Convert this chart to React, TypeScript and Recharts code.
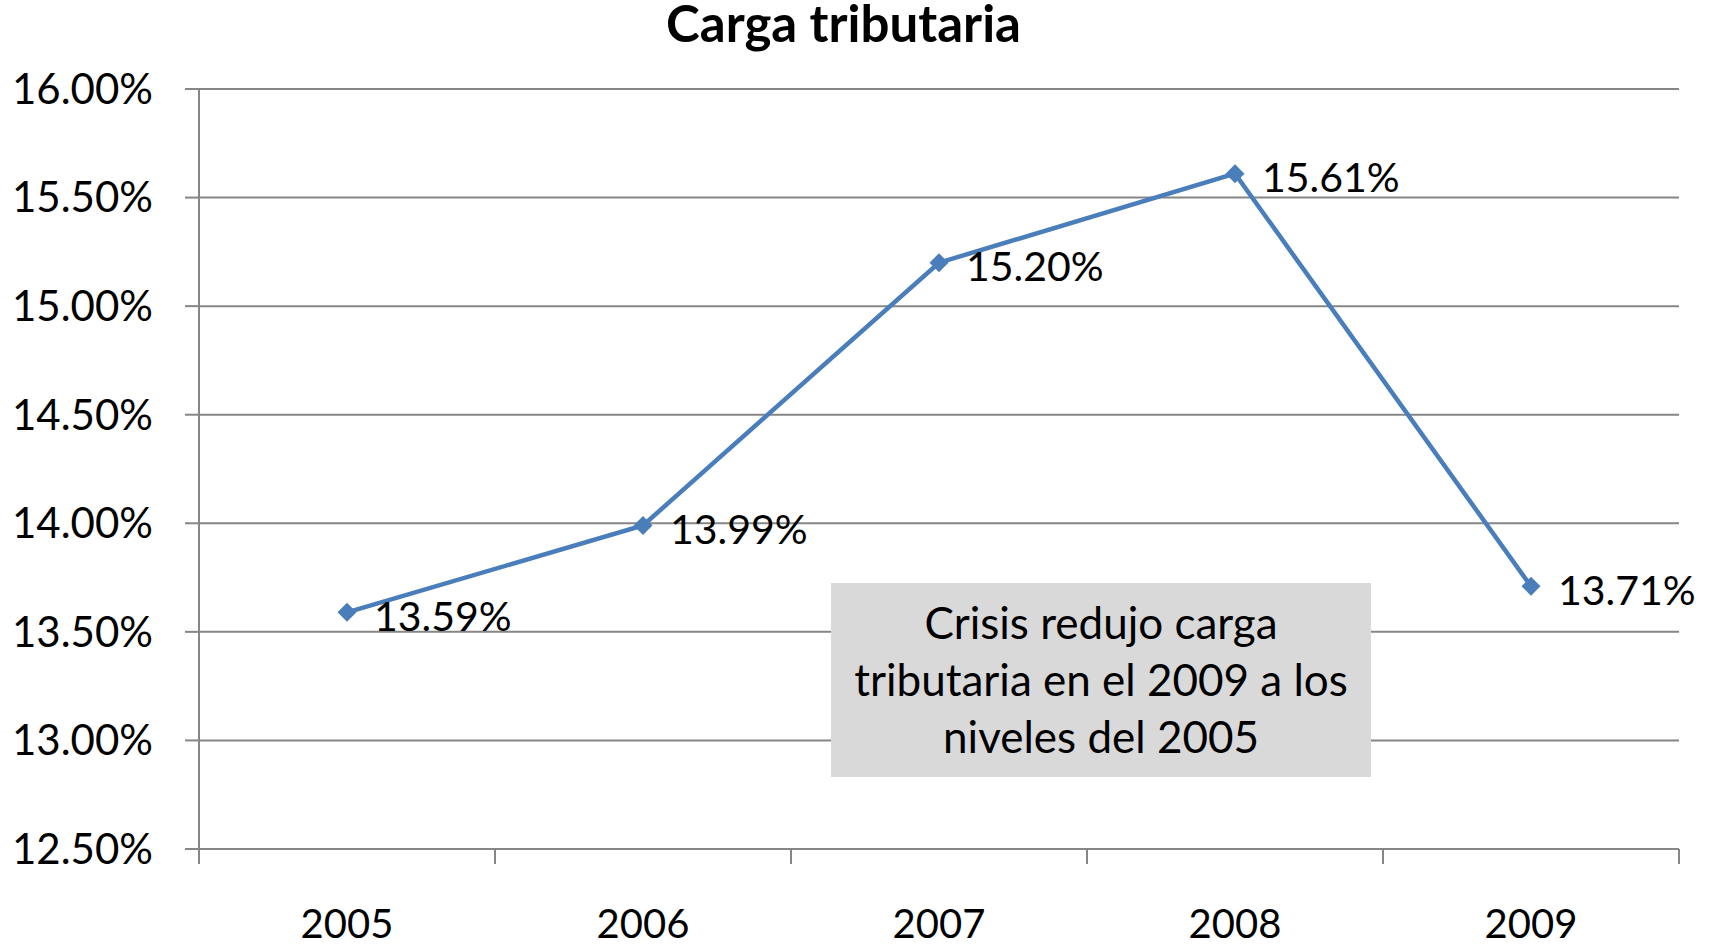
import React from 'react';
import { LineChart, Line, XAxis, YAxis, CartesianGrid, LabelList } from 'recharts';

const years = ['2005', '2006', '2007', '2008', '2009'];
const carga = [13.59, 13.99, 15.2, 15.61, 13.71];
const yTicks = [12.5, 13, 13.5, 14, 14.5, 15, 15.5, 16];
const bandEdges = [0, 1, 2, 3, 4, 5];
const noteLines = ['Crisis redujo carga', 'tributaria en el 2009 a los', 'niveles del 2005'];

// each year sits in the middle of its band; band edges carry the tick marks
const data = years.map((year, i) => ({ year, pos: i + 0.5, carga: carga[i] }));
const xTicks = [...bandEdges, ...data.map((d) => d.pos)].sort((a, b) => a - b);

const FONT = "Lato, 'Open Sans', sans-serif";
const BLUE = '#4A7EBB';
const GRID = '#868686';

const Diamond = (props: any) => {
  const { cx, cy } = props;
  const r = 9.5;
  return <path d={`M${cx},${cy - r}L${cx + r},${cy}L${cx},${cy + r}L${cx - r},${cy}Z`} fill={BLUE} />;
};

const PointLabel = (props: any) => {
  const { x, y, value } = props;
  return (
    <text x={x + 27} y={y + 3} dominantBaseline="central" fontSize={41} fontFamily={FONT} fill="#000">
      {Number(value).toFixed(2)}%
    </text>
  );
};

const YearTick = (props: any) => {
  const { x, y, payload } = props;
  const v = payload.value;
  if (Number.isInteger(v)) {
    return <line x1={x} x2={x} y1={y} y2={y + 15} stroke={GRID} strokeWidth={2} />;
  }
  return (
    <text x={x} y={y + 89} textAnchor="middle" fontSize={40} fontFamily={FONT} fill="#000">
      {years[Math.floor(v)]}
    </text>
  );
};

export default function App() {
  return (
    <div style={{ position: 'absolute', left: 0, top: 0, width: 1718, height: 944, background: '#fff', fontFamily: FONT }}>
      <div
        style={{
          position: 'absolute', left: 0, top: 0, width: 1687, textAlign: 'center',
          fontSize: 51, fontWeight: 700, lineHeight: '45px', color: '#000',
        }}
      >
        Carga tributaria
      </div>
      <LineChart width={1718} height={944} data={data} margin={{ top: 89, right: 39, bottom: 0, left: 0 }}>
        <CartesianGrid vertical={false} stroke={GRID} strokeWidth={2} />
        <XAxis
          dataKey="pos"
          type="number"
          domain={[0, 5]}
          ticks={xTicks}
          tick={<YearTick />}
          tickLine={false}
          tickSize={0}
          tickMargin={0}
          height={95}
          stroke={GRID}
          strokeWidth={2}
          interval={0}
          allowDataOverflow
        />
        <YAxis
          width={199}
          domain={[12.5, 16]}
          ticks={yTicks}
          tickSize={14}
          tickMargin={32}
          stroke={GRID}
          strokeWidth={2}
          tick={{ fill: '#000', fontSize: 42, fontFamily: FONT }}
          tickFormatter={(v: number) => `${v.toFixed(2)}%`}
        />
        <Line
          type="linear"
          dataKey="carga"
          stroke={BLUE}
          strokeWidth={4.5}
          dot={<Diamond />}
          activeDot={false}
          isAnimationActive={false}
        >
          <LabelList dataKey="carga" content={<PointLabel />} />
        </Line>
      </LineChart>
      <div
        style={{
          position: 'absolute', left: 831, top: 583, width: 540, height: 194, boxSizing: 'border-box',
          background: '#D9D9D9', paddingTop: 11, textAlign: 'center', fontSize: 44, lineHeight: '57px', color: '#000',
        }}
      >
        {noteLines.map((l) => (
          <div key={l}>{l}</div>
        ))}
      </div>
    </div>
  );
}
